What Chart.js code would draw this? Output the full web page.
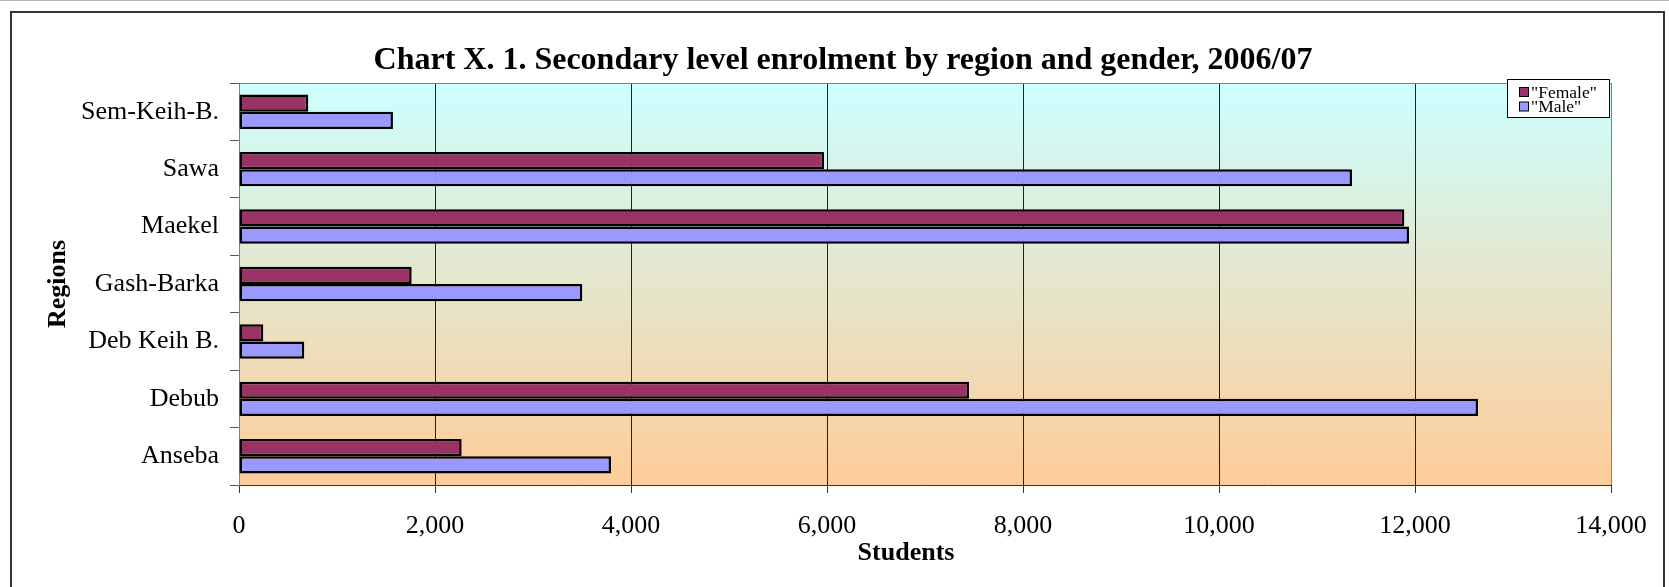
<!DOCTYPE html>
<html>
<head>
<meta charset="utf-8">
<script src="https://cdn.jsdelivr.net/npm/chart.js@4.4.0/dist/chart.umd.min.js"></script>
<style>
  body { margin: 0; background: #fff; }
  #topline { position: absolute; left: 0; top: 0; width: 1669px; height: 0; border-top: 1px solid #b4b4b4; }
  #frame { position: absolute; left: 10px; top: 11px; width: 1651px; height: 600px; border: 2px solid #333; }
  #enrolChart { position: absolute; left: 0; top: 0; }
</style>
</head>
<body>
<div id="topline"></div>
<div id="frame"></div>
<canvas id="enrolChart" width="1669" height="587"></canvas>
<script>
const regions = ["Sem-Keih-B.", "Sawa", "Maekel", "Gash-Barka", "Deb Keih B.", "Debub", "Anseba"];
const female = [707, 5970, 11891, 1762, 248, 7449, 2272];
const male = [1571, 11357, 11939, 3503, 666, 12643, 3796];
const seriesNames = ['"Female"', '"Male"'];
const xMax = 14000;
const xStep = 2000;

const serif = "'Liberation Serif', 'Times New Roman', serif";

// plot background, plot border, titles and boxed legend
const decorPlugin = {
  id: "decor",
  beforeDraw(chart) {
    const { ctx, chartArea: a } = chart;
    const g = ctx.createLinearGradient(0, a.top, 0, a.bottom);
    g.addColorStop(0, "#ccffff");
    g.addColorStop(1, "#ffcc99");
    ctx.save();
    ctx.fillStyle = g;
    ctx.fillRect(a.left, a.top, a.right - a.left, a.bottom - a.top);
    ctx.restore();
  },
  beforeDatasetsDraw(chart) {
    const { ctx, chartArea: a } = chart;
    ctx.save();
    ctx.strokeStyle = "#808080";
    ctx.lineWidth = 1;
    ctx.beginPath();
    ctx.moveTo(a.left, a.top + 0.5);
    ctx.lineTo(a.right, a.top + 0.5);
    ctx.stroke();
    ctx.restore();
  },
  afterDraw(chart) {
    const { ctx } = chart;
    ctx.save();
    ctx.fillStyle = "#000";
    ctx.textAlign = "center";
    ctx.textBaseline = "middle";
    // chart title
    ctx.font = "bold 32px " + serif;
    ctx.fillText("Chart X. 1. Secondary level enrolment by region and gender, 2006/07", 843, 61);
    // x axis title (sits a bit left of the plot centre in the original)
    ctx.font = "bold 26px " + serif;
    ctx.fillText("Students", 906, 553);

    // legend
    const lx = 1507, ly = 79, lw = 102, lh = 38;
    ctx.fillStyle = "#fff";
    ctx.fillRect(lx, ly, lw, lh);
    ctx.strokeStyle = "#000";
    ctx.lineWidth = 1;
    ctx.strokeRect(lx + 0.5, ly + 0.5, lw, lh);
    ctx.font = "17.5px " + serif;
    ctx.textAlign = "left";
    chart.data.datasets.forEach((ds, i) => {
      const cy = ly + 13 + i * 14.5;
      ctx.fillStyle = ds.backgroundColor;
      ctx.fillRect(lx + 12, cy - 4.5, 9, 9);
      ctx.strokeStyle = "#000";
      ctx.strokeRect(lx + 12.5, cy - 4.5, 9, 9);
      ctx.fillStyle = "#000";
      ctx.fillText(ds.label, lx + 24, cy + 1);
    });
    ctx.restore();
  },
};

document.addEventListener("DOMContentLoaded", function () {
  const ctx = document.getElementById("enrolChart").getContext("2d");

  new Chart(ctx, {
    type: "bar",
    data: {
      labels: regions,
      datasets: [
        {
          label: seriesNames[0],
          data: female,
          backgroundColor: "#993366",
          borderColor: "#000",
          borderWidth: 2.5,
          borderSkipped: false,
        },
        {
          label: seriesNames[1],
          data: male,
          backgroundColor: "#9999ff",
          borderColor: "#000",
          borderWidth: 2.5,
          borderSkipped: false,
        },
      ],
    },
    options: {
      indexAxis: "y",
      responsive: false,
      animation: false,
      layout: {
        padding: { top: 83, left: 11, right: 58, bottom: 0 },
      },
      datasets: {
        bar: { categoryPercentage: 0.6, barPercentage: 1.0 },
      },
      scales: {
        x: {
          min: 0,
          max: xMax,
          afterFit: function (scale) {
            scale.height = 102;
          },
          ticks: {
            stepSize: xStep,
            color: "#000",
            padding: 18,
            maxRotation: 0,
            font: { family: serif, size: 26 },
            callback: function (v) {
              return v.toLocaleString("en-US");
            },
          },
          grid: {
            color: function (c) {
              return c.tick && (c.tick.value === 0 || c.tick.value === xMax) ? "#808080" : "#222";
            },
            tickColor: "#333",
            tickLength: 8,
            lineWidth: 1,
          },
          border: { color: "#333", width: 1 },
        },
        y: {
          afterFit: function (scale) {
            scale.width = 228;
          },
          ticks: {
            color: "#000",
            padding: 11,
            font: { family: serif, size: 26 },
          },
          grid: {
            drawOnChartArea: false,
            tickColor: "#555",
            tickLength: 9,
          },
          border: { color: "#808080", width: 1 },
          title: {
            display: true,
            text: "Regions",
            color: "#000",
            font: { family: serif, size: 26, weight: "bold" },
            padding: { top: 32, bottom: 0 },
          },
        },
      },
      plugins: {
        legend: { display: false },
        title: { display: false },
        tooltip: { enabled: false },
      },
    },
    plugins: [decorPlugin],
  });
});
</script>
</body>
</html>
